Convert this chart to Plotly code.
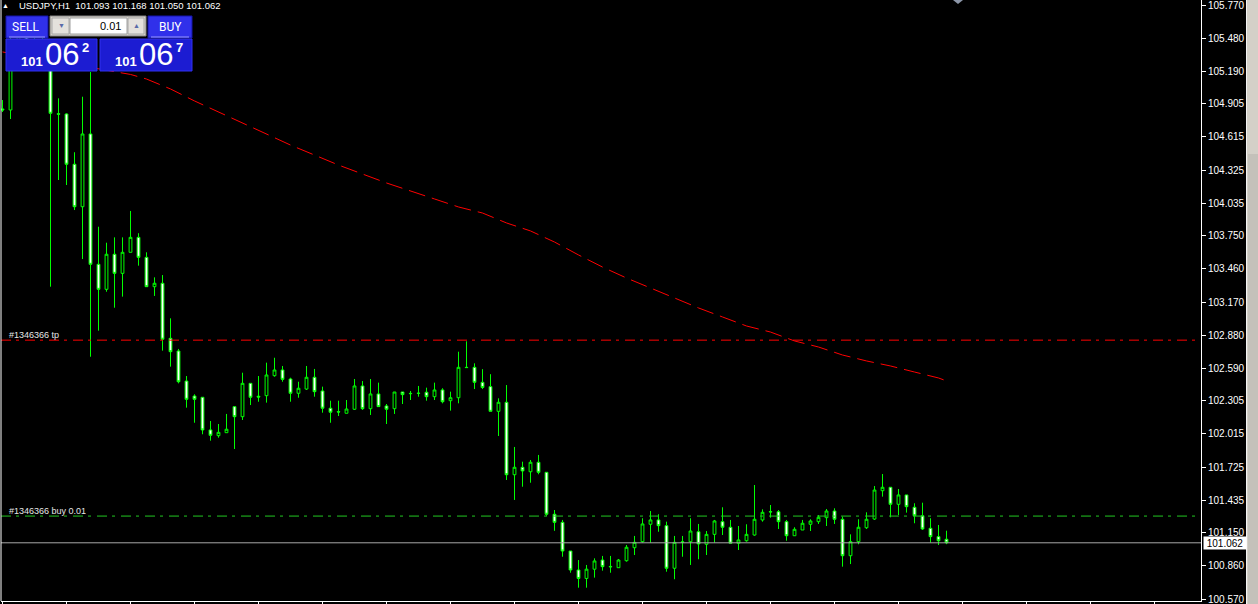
import plotly.graph_objects as go

# ---------------- data ----------------
symbol_title = "USDJPY,H1  101.093 101.168 101.050 101.062"

opens = [104.860, 104.851, 105.420, 105.551, 105.376, 105.464, 105.289, 104.818, 104.816, 104.376,
         104.004, 104.641, 103.500, 103.281, 103.588, 103.421, 103.605, 103.736, 103.561, 103.304,
         103.334, 102.852, 102.741, 102.478, 102.347, 102.336, 102.050, 102.000, 102.026, 102.254,
         102.166, 102.458, 102.345, 102.350, 102.525, 102.575, 102.496, 102.371, 102.408, 102.511,
         102.391, 102.240, 102.210, 102.196, 102.231, 102.435, 102.236, 102.365, 102.260, 102.236,
         102.382, 102.370, 102.372, 102.380, 102.341, 102.400, 102.306, 102.332, 102.598, 102.598,
         102.467, 102.429, 102.213, 102.292, 101.658, 101.723, 101.684, 101.767, 101.679, 101.312,
         101.241, 100.990, 100.824, 100.750, 100.831, 100.911, 100.855, 100.844, 100.905, 101.019,
         101.072, 101.224, 101.262, 101.212, 100.839, 101.070, 101.072, 101.159, 101.049, 101.136,
         101.247, 101.198, 101.058, 101.080, 101.130, 101.262, 101.332, 101.334, 101.247, 101.124,
         101.174, 101.224, 101.247, 101.282, 101.340, 101.268, 100.949, 101.072, 101.194, 101.270,
         101.518, 101.548, 101.399, 101.481, 101.373, 101.299, 101.189, 101.116, 101.093]
highs = [104.938, 105.551, 105.639, 105.621, 105.507, 105.534, 105.400, 104.953, 104.822, 104.481,
         104.967, 105.184, 103.829, 103.689, 103.736, 103.736, 103.967, 103.772, 103.605, 103.386,
         103.406, 103.027, 102.759, 102.522, 102.362, 102.336, 102.128, 102.102, 102.190, 102.254,
         102.551, 102.458, 102.522, 102.639, 102.682, 102.610, 102.507, 102.472, 102.610, 102.584,
         102.429, 102.306, 102.306, 102.312, 102.496, 102.478, 102.496, 102.464, 102.277, 102.382,
         102.382, 102.391, 102.435, 102.420, 102.464, 102.415, 102.385, 102.735, 102.826, 102.633,
         102.582, 102.538, 102.327, 102.443, 101.901, 101.772, 101.787, 101.831, 101.679, 101.349,
         101.262, 100.990, 100.911, 100.868, 100.926, 100.947, 100.947, 100.920, 101.043, 101.122,
         101.277, 101.340, 101.312, 101.247, 101.122, 101.122, 101.277, 101.227, 101.165, 101.262,
         101.373, 101.262, 101.209, 101.224, 101.568, 101.355, 101.393, 101.349, 101.262, 101.198,
         101.262, 101.268, 101.305, 101.358, 101.364, 101.291, 101.136, 101.268, 101.329, 101.559,
         101.664, 101.548, 101.533, 101.481, 101.408, 101.413, 101.277, 101.218, 101.168]
lows = [104.833, 104.772, 105.332, 105.306, 105.271, 105.219, 103.304, 104.238, 104.194, 103.975,
        103.546, 102.691, 102.919, 103.260, 103.120, 103.217, 103.605, 103.488, 103.304, 103.223,
        102.744, 102.604, 102.458, 102.245, 102.113, 102.012, 101.956, 101.982, 102.026, 101.883,
        102.137, 102.268, 102.297, 102.289, 102.516, 102.472, 102.297, 102.332, 102.400, 102.341,
        102.201, 102.113, 102.172, 102.196, 102.225, 102.225, 102.181, 102.254, 102.102, 102.190,
        102.277, 102.312, 102.341, 102.306, 102.312, 102.283, 102.219, 102.283, 102.592, 102.408,
        102.408, 102.213, 101.997, 101.612, 101.437, 101.553, 101.588, 101.662, 101.297, 101.167,
        100.940, 100.800, 100.669, 100.669, 100.757, 100.818, 100.800, 100.844, 100.897, 100.955,
        101.063, 101.063, 101.159, 100.809, 100.743, 100.940, 100.868, 100.918, 100.955, 101.063,
        101.130, 101.058, 100.999, 101.072, 101.124, 101.247, 101.282, 101.183, 101.080, 101.124,
        101.174, 101.165, 101.227, 101.209, 101.227, 100.853, 100.876, 101.049, 101.183, 101.262,
        101.466, 101.285, 101.305, 101.326, 101.233, 101.174, 101.063, 101.043, 101.050]
closes = [104.851, 105.420, 105.551, 105.376, 105.464, 105.289, 104.822, 104.814, 104.376, 104.004,
          104.641, 103.500, 103.281, 103.588, 103.421, 103.605, 103.736, 103.561, 103.304, 103.334,
          102.844, 102.735, 102.472, 102.318, 102.318, 102.050, 102.003, 102.029, 102.056, 102.166,
          102.458, 102.336, 102.338, 102.531, 102.575, 102.493, 102.371, 102.415, 102.511, 102.385,
          102.240, 102.205, 102.207, 102.233, 102.435, 102.236, 102.365, 102.254, 102.231, 102.382,
          102.359, 102.368, 102.370, 102.341, 102.400, 102.297, 102.332, 102.598, 102.596, 102.467,
          102.422, 102.213, 102.292, 101.658, 101.723, 101.691, 101.767, 101.679, 101.312, 101.241,
          100.990, 100.824, 100.750, 100.831, 100.903, 100.853, 100.852, 100.911, 101.023, 101.066,
          101.227, 101.262, 101.212, 100.839, 101.066, 101.068, 101.165, 101.052, 101.136, 101.253,
          101.198, 101.058, 101.087, 101.136, 101.268, 101.329, 101.334, 101.247, 101.124, 101.180,
          101.233, 101.253, 101.285, 101.340, 101.268, 100.949, 101.072, 101.198, 101.268, 101.524,
          101.548, 101.399, 101.481, 101.378, 101.299, 101.183, 101.116, 101.080, 101.062]
bars = list(range(len(opens)))

# moving average, read at these bar positions
ma_bars = [0, 16, 18, 21, 24, 36, 42, 48, 54, 57, 60, 63, 66, 69, 72, 75, 78, 81, 84, 87,
           90, 93, 96, 99, 102, 105, 108, 111, 114, 117, 118]
ma_vals = [105.359, 105.162, 105.122, 105.035, 104.930, 104.544, 104.369, 104.212, 104.072, 104.002,
           103.949, 103.862, 103.792, 103.695, 103.582, 103.476, 103.380, 103.293, 103.205, 103.118,
           103.039, 102.960, 102.907, 102.829, 102.776, 102.706, 102.654, 102.610, 102.557, 102.505,
           102.479]

tp_level = 102.836
buy_level = 101.296
bid_price = 101.062

price_ticks = ["105.770", "105.480", "105.190", "104.905", "104.615", "104.325", "104.035",
               "103.750", "103.460", "103.170", "102.880", "102.590", "102.305", "102.015",
               "101.725", "101.435", "101.150", "100.860", "100.570"]

# ---------------- figure ----------------
W, H = 1258, 604
ML, MR, MT, MB = 1, 57, 0, 3
PW, PH = W - ML - MR, H - MT - MB
BAR0 = 2.5   # pixel centre of bar 0
BARW = 8     # pixels per bar

def px(x):
    return (x - ML) / PW

def py(y):
    return 1 - (y - MT) / PH

FONT = "Liberation Sans"
LIME = "#00ff00"

fig = go.Figure()
fig.add_trace(go.Candlestick(
    x=bars, open=opens, high=highs, low=lows, close=closes,
    increasing=dict(line=dict(color=LIME, width=1), fillcolor="#000000"),
    decreasing=dict(line=dict(color=LIME, width=1), fillcolor="#ffffff"),
    whiskerwidth=0, showlegend=False, hoverinfo="skip"))
fig.add_trace(go.Scatter(
    x=ma_bars, y=ma_vals, mode="lines",
    line=dict(color="#ff0000", width=1, dash="17px,7px"),
    showlegend=False, hoverinfo="skip"))

shapes = []
# order lines and bid line
shapes.append(dict(type="line", xref="paper", yref="y", x0=0, x1=1, y0=tp_level, y1=tp_level,
                   line=dict(color="#ff0000", width=1, dash="10px,5px,3px,6px")))
shapes.append(dict(type="line", xref="paper", yref="y", x0=0, x1=1, y0=buy_level, y1=buy_level,
                   line=dict(color="#22c822", width=1, dash="10px,5px,3px,6px")))
shapes.append(dict(type="line", xref="paper", yref="y", x0=0, x1=1, y0=bid_price, y1=bid_price,
                   line=dict(color="#a8a8a8", width=1)))
# left border
shapes.append(dict(type="line", xref="paper", yref="paper", x0=0, x1=0, y0=0, y1=1,
                   line=dict(color="#ffffff", width=1)))
# scrollbar at the right
shapes.append(dict(type="rect", xref="paper", yref="paper", x0=px(1246), x1=px(1259), y0=py(604), y1=py(0),
                   fillcolor="#d4d0c8", line=dict(width=0), layer="above"))
shapes.append(dict(type="rect", xref="paper", yref="paper", x0=px(1248), x1=px(1259), y0=py(604), y1=py(154),
                   fillcolor="#c4c1ba", line=dict(width=0), layer="above"))
shapes.append(dict(type="line", xref="paper", yref="paper", x0=px(1246.5), x1=px(1246.5), y0=py(604), y1=py(0),
                   line=dict(color="#f4f4f4", width=1), layer="above"))
# small marker at top
shapes.append(dict(type="path", xref="paper", yref="paper",
                   path=f"M {px(953)} {py(0)} L {px(963)} {py(0)} L {px(958)} {py(4)} Z",
                   fillcolor="#8c96a8", line=dict(width=0), layer="above"))

# one-click trading panel
def rect(x0, y0, x1, y1, fill, line="#0000a0", lw=1):
    shapes.append(dict(type="rect", xref="paper", yref="paper", x0=px(x0), x1=px(x1), y0=py(y1), y1=py(y0),
                       fillcolor=fill, line=dict(color=line, width=lw), layer="above"))

def hline(x0, x1, y, color):
    shapes.append(dict(type="line", xref="paper", yref="paper", x0=px(x0), x1=px(x1), y0=py(y), y1=py(y),
                       line=dict(color=color, width=1), layer="above"))

rect(6, 16, 48, 38, "#3030ea", "#1414a8")
hline(9, 45, 37, "#9a9aff")
rect(148, 16, 192, 38, "#3030ea", "#1414a8")
hline(151, 189, 37, "#9a9aff")
rect(50, 16, 146, 36, "#d4d0c8", "#808080")
rect(70, 18, 127, 34, "#ffffff", "#a0a0a0")
rect(52, 18, 69, 34, "#e4e1dc", "#a8a8a8")
rect(128, 18, 144, 34, "#e4e1dc", "#a8a8a8")
rect(6, 39, 97, 71, "#1c1cd2", "#3030f0")
rect(100, 39, 192, 71, "#1c1cd2", "#3030f0")

annotations = []

def text(x, y, s, size, color="#ffffff", xanchor="center", bold=False, family=FONT):
    annotations.append(dict(xref="paper", yref="paper", x=px(x), y=py(y), text=f"<b>{s}</b>" if bold else s,
                            showarrow=False, xanchor=xanchor, yanchor="middle",
                            font=dict(family=family, size=size, color=color)))

text(25, 27, "SELL", 12, family="Roboto")
text(170, 27, "BUY", 12, family="Roboto")
text(61, 26, "▼", 7, color="#5a6aa8")
text(136, 26, "▲", 7, color="#5a6aa8")
text(123, 26, "0.01", 11, color="#000000", xanchor="right")
text(32, 61, "101", 13, bold=True)
text(61.5, 54.5, "06", 31)
text(85.5, 47.5, "2", 13, bold=True)
text(126, 61, "101", 13, bold=True)
text(155.5, 54.5, "06", 31)
text(179.5, 47.5, "7", 13, bold=True)

# title and order labels
text(5.5, 6, "▲", 7)
text(17, 6, symbol_title, 9.5, xanchor="left")
text(7, 335, "#1346366 tp", 9, color="#e6e6e6", xanchor="left")
text(7, 511, "#1346366 buy 0.01", 9, color="#e6e6e6", xanchor="left")

# bid price label on the axis
annotations.append(dict(xref="paper", yref="y", x=1, y=bid_price, text=f"{bid_price:.3f}",
                        showarrow=False, xanchor="left", yanchor="middle", xshift=2,
                        bgcolor="#ffffff", borderpad=0, width=42, height=12, align="center",
                        font=dict(family=FONT, size=10, color="#000000")))

y_top = 105.770 + 5 * 5.2 / 594
y_bot = y_top - 601 * 5.2 / 594
x_lo = (ML - BAR0) / BARW

fig.update_layout(
    width=W, height=H,
    margin=dict(l=ML, r=MR, t=MT, b=MB, autoexpand=False),
    paper_bgcolor="#000000", plot_bgcolor="#000000",
    showlegend=False, boxgap=0.5,
    shapes=shapes, annotations=annotations,
    xaxis=dict(range=[x_lo, x_lo + PW / BARW], showgrid=False, zeroline=False,
               showline=True, linecolor="#ffffff", linewidth=1,
               ticks="outside", ticklen=3, tickcolor="#ffffff", tickwidth=1,
               tick0=0, dtick=8, showticklabels=False, rangeslider=dict(visible=False),
               fixedrange=True),
    yaxis=dict(range=[y_bot, y_top], side="right", showgrid=False, zeroline=False,
               showline=True, linecolor="#ffffff", linewidth=1,
               ticks="outside", ticklen=4, tickcolor="#ffffff", tickwidth=1,
               tickvals=[float(t) for t in price_ticks], ticktext=price_ticks,
               ticklabeloverflow="allow",
               tickfont=dict(family=FONT, size=10, color="#ffffff"), fixedrange=True),
)

fig.write_html("out.html", config={"displayModeBar": False},
               post_script="document.body.style.margin='0';document.body.style.overflow='hidden';"
                           "document.body.style.background='#000';")
